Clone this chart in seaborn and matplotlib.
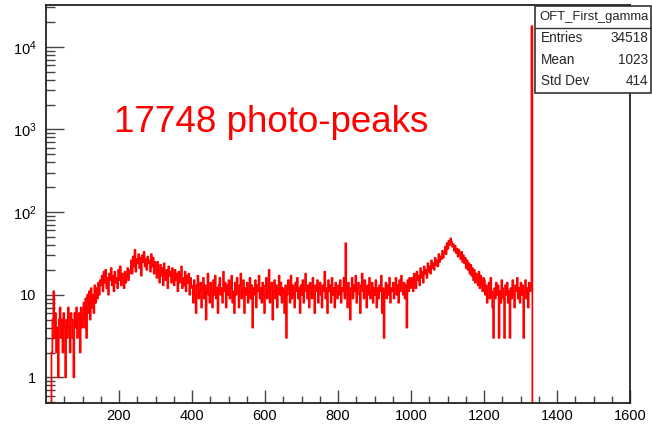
import numpy as np
import pandas as pd
import matplotlib
matplotlib.use("Agg")
import matplotlib.pyplot as plt
import seaborn as sns
from matplotlib.patches import Rectangle
from matplotlib.lines import Line2D
from matplotlib.ticker import FixedLocator, LogLocator, FuncFormatter, NullFormatter

# ---------------- data (bin width 2.5, first bin starts at 15) ----------------
bin_start = 15
bin_width = 2.5
counts_low = [2, 5, 11, 3, 6, 2, 4, 1, 5, 7, 3, 5, 2, 6, 4, 1, 5, 3, 7, 4,
              2, 6, 5, 3, 1, 6, 4, 7, 3, 5, 6, 2, 7, 4]                                   # 15-100
counts_rise = [5, 8, 4, 9, 3, 10, 6, 11, 5, 12, 7, 10, 6, 13, 8, 12, 9, 14, 10, 15]        # 100-150
counts_shoulder = [13, 17, 11, 19, 14, 20, 12, 16, 10, 18, 15, 21, 13, 17, 11, 19,
                   14, 16, 12, 20, 15, 22, 13, 18, 16, 12, 19, 14, 17, 21, 15, 18]         # 150-230
counts_compton = [20, 26, 18, 29, 22, 35, 19, 27, 24, 31, 21, 28, 17, 30,
                  25, 33, 22, 27, 20, 29, 24, 26, 19, 31, 22, 28, 18, 25]                  # 230-300
counts_fall = [22, 16, 25, 19, 14, 23, 17, 21, 13, 24, 18, 15, 20, 12, 22, 17, 19, 14, 21, 16,
               13, 20, 15, 18, 11, 19, 14, 17, 22, 12, 16, 13, 19, 11, 17, 14, 18, 10, 16, 13]  # 300-400
counts_flat = [12, 8, 15, 10, 6, 13, 17, 9, 11, 14,
               7, 12, 16, 9, 13, 5, 11, 18, 10, 8,
               14, 11, 7, 15, 10, 17, 9, 12, 6, 13,
               16, 10, 12, 8, 19, 11, 14, 7, 13, 10,
               15, 9, 12, 17, 8, 11, 6, 14, 10, 16,
               12, 7, 13, 18, 9, 11, 15, 6, 12, 10,
               14, 8, 11, 16, 9, 13, 4, 12, 10, 15,
               7, 13, 11, 17, 9, 12, 8, 14, 10, 6,
               13, 16, 9, 11, 20, 8, 12, 14, 5, 11,
               15, 9, 13, 7, 12, 17, 10, 14, 8, 12,
               11, 6, 13, 3, 10, 15, 12, 8, 17, 9,
               13, 10, 7, 14, 11, 16, 9, 12, 6, 13,
               10, 15, 8, 12, 18, 11, 9, 13, 7, 14,
               12, 9, 16, 10, 6, 13, 11, 15, 8, 12,
               14, 10, 7, 13, 11, 19, 9, 12, 6, 15,
               11, 13, 8, 16, 10, 12, 7, 14, 11, 9,
               13, 10, 15, 8, 12, 11, 16, 9, 42, 12,
               7, 14, 10, 5, 12, 16, 9, 13, 11, 17,
               8, 12, 14, 10, 6, 13, 18, 11, 9, 15,
               12, 7, 13, 10, 16, 9, 11, 14, 8, 12,
               10, 15, 7, 12, 9, 13, 11, 17, 6, 12,
               3, 11, 14, 9, 13, 10, 16, 8, 12, 11,
               14, 9, 12, 16, 10, 13, 8, 15, 11, 17,
               12, 10, 14, 9, 13, 4, 15, 11, 16, 12]                                      # 400-1000
counts_peak_up = [13, 16, 11, 18, 14, 12, 19, 15, 17, 13, 21, 16, 19, 14, 22, 18, 20, 16, 24, 19,
                  22, 18, 26, 21, 24, 20, 28, 23, 26, 22, 31, 25, 29, 27, 34, 28, 33, 38, 31, 42,
                  36, 45, 40, 48]                                                          # 1000-1110
counts_peak_down = [44, 38, 41, 34, 39, 32, 36, 29, 35, 31, 27, 33, 25, 30, 24, 28, 21, 26,
                    20, 24, 18, 23, 17, 21, 15, 20, 14, 18, 16, 13, 19, 12, 17, 14, 11, 16]  # 1110-1200
counts_tail = [15, 10, 13, 8, 12, 14, 9, 16, 11, 7,
               3, 12, 9, 14, 10, 13, 3, 11, 8, 15,
               12, 9, 3, 13, 10, 14, 8, 11, 3, 12,
               9, 15, 10, 7, 13, 11, 16, 9, 12, 8,
               14, 10, 13, 3, 11, 15, 9, 12, 7, 14,
               11, 13]                                                                     # 1200-1330
photo_peak = [17748]                                                                       # 1330

stats_title = "OFT_First_gamma"
stats_labels = ["Entries", "Mean", "Std Dev"]
stats_values = ["34518", "1023", "414"]
annotation = "17748 photo-peaks"
x_major = [200, 400, 600, 800, 1000, 1200, 1400, 1600]

counts = (counts_low + counts_rise + counts_shoulder + counts_compton + counts_fall +
          counts_flat + counts_peak_up + counts_peak_down + counts_tail + photo_peak)
edges = bin_start + bin_width * np.arange(len(counts))
# outline: empty before first bin and after last bin
x_vals = np.concatenate([[bin_start - bin_width], edges, [edges[-1] + bin_width, 1600]])
y_vals = np.concatenate([[0], counts, [0, 0]]).astype(float)
df = pd.DataFrame({"energy": x_vals, "counts": y_vals})

# ---------------- style ----------------
sns.set_theme(style="white")
plt.rcParams["font.family"] = ["Liberation Sans", "DejaVu Sans"]
plt.rcParams["mathtext.fontset"] = "custom"
plt.rcParams["mathtext.rm"] = "Liberation Sans"
plt.rcParams["mathtext.it"] = "Liberation Sans"

W, H = 652, 425
fig = plt.figure(figsize=(W / 100, H / 100), dpi=100)
ax = fig.add_axes([46 / W, 22 / H, 584 / W, 398 / H])

sns.lineplot(data=df, x="energy", y="counts", ax=ax, color="#ff0000", lw=1.25,
             drawstyle="steps-post", estimator=None, sort=False)

ax.set_yscale("log")
ax.set_xlim(0, 1600)
ax.set_ylim(0.49, 32000)
ax.set_xlabel("")
ax.set_ylabel("")

ax.xaxis.set_major_locator(FixedLocator(x_major))
ax.xaxis.set_minor_locator(FixedLocator([v for v in range(50, 1600, 50) if v % 200 != 0]))
ax.yaxis.set_major_locator(LogLocator(base=10, numticks=20))
ax.yaxis.set_minor_locator(LogLocator(base=10, subs=np.arange(2, 10), numticks=50))
ax.yaxis.set_minor_formatter(NullFormatter())


def yfmt(v, pos):
    e = int(round(np.log10(v)))
    if e == 0:
        return "1"
    if e == 1:
        return "10"
    return r"$\mathregular{10^{%d}}$" % e


ax.yaxis.set_major_formatter(FuncFormatter(yfmt))
ax.tick_params(axis="both", which="both", direction="in", color="#444444",
               labelcolor="black", labelsize=10.5, bottom=True, left=True,
               top=False, right=False)
ax.tick_params(axis="y", which="major", length=13, width=1.0, pad=7)
ax.tick_params(axis="y", which="minor", length=6.5, width=1.0)
ax.tick_params(axis="x", which="major", length=9.5, width=1.0, pad=4.5)
ax.tick_params(axis="x", which="minor", length=5.4, width=1.0)
for s in ax.spines.values():
    s.set_color("#222222")
    s.set_linewidth(1.3)
    s.set_visible(True)

# annotation
fig.text(114 / W, 1 - 132 / H, annotation, color="#ff0000", fontsize=26.5,
         ha="left", va="baseline")

# stats box
bx0, bx1, by0, by1 = 535, 651, 6, 93
fig.add_artist(Rectangle((bx0 / W, 1 - by1 / H), (bx1 - bx0) / W, (by1 - by0) / H,
                         transform=fig.transFigure, facecolor="white",
                         edgecolor="#333333", lw=1.2, zorder=5))
fig.add_artist(Line2D([bx0 / W, bx1 / W], [1 - 28 / H, 1 - 28 / H],
                      transform=fig.transFigure, color="#333333", lw=1.0, zorder=6))
fig.text((bx0 + bx1) / 2 / W + 1 / W, 1 - 17 / H, stats_title, ha="center", va="center",
         fontsize=9.4, zorder=7)
for i, (lab, val) in enumerate(zip(stats_labels, stats_values)):
    yy = 1 - (38 + 21.5 * i) / H
    fig.text(541 / W, yy, lab, ha="left", va="center", fontsize=9.8, zorder=7)
    fig.text(648 / W, yy, val, ha="right", va="center", fontsize=9.8, zorder=7)

fig.savefig("out.png", dpi=100, facecolor="white")
